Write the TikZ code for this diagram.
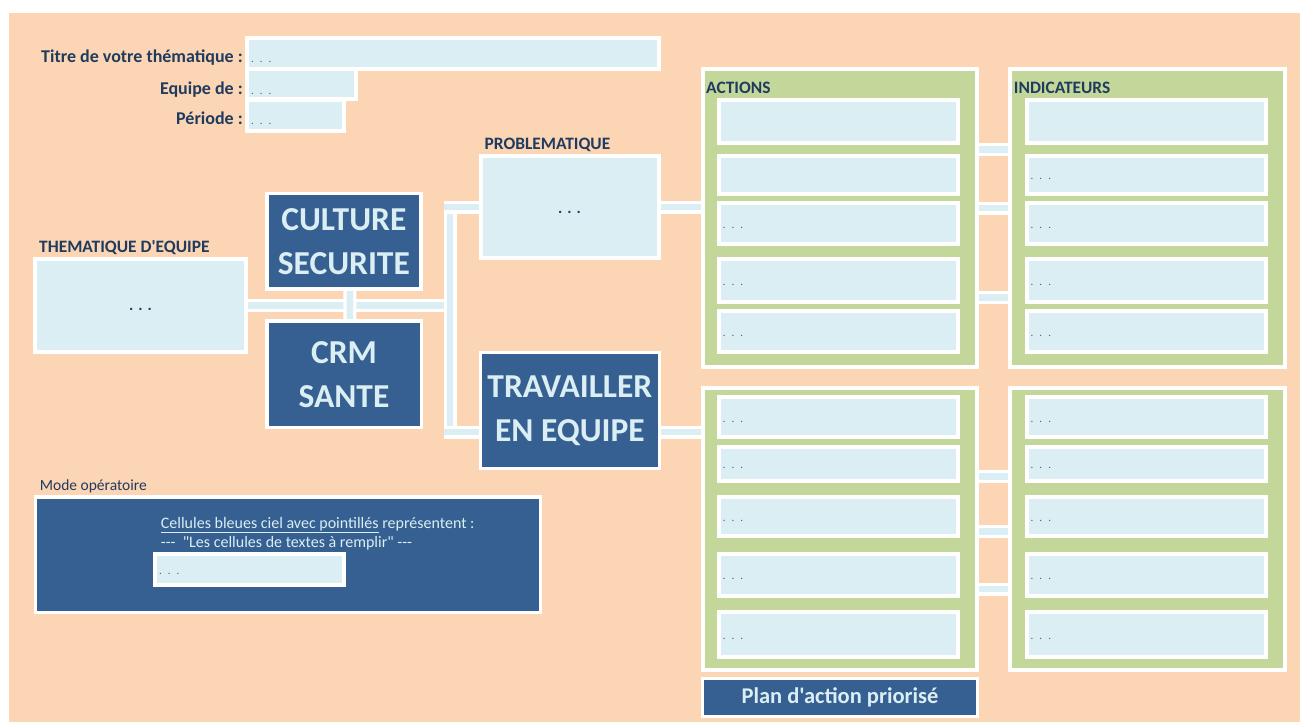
\documentclass[tikz,border=0pt]{standalone}
\usepackage{fontspec}
\setmainfont{Carlito}[Ligatures=TeXOff]
\usetikzlibrary{calc}
\definecolor{peach}{HTML}{FCD5B4}
\definecolor{lblue}{HTML}{DAEEF3}
\definecolor{dblue}{HTML}{366092}
\definecolor{olivec}{HTML}{C4D79B}
\definecolor{labc}{HTML}{1F3B5E}
\definecolor{dotc}{HTML}{4A5F7E}
\pgfdeclarelayer{back}\pgfdeclarelayer{links}\pgfsetlayers{back,links,main}
\tikzset{
 base/.style={rectangle, inner sep=0pt, outer sep=0pt, draw=white},
 cell/.style={base, fill=lblue},
 dark/.style={base, fill=dblue, text=lblue, font=\bfseries\fontsize{33.5}{44}\selectfont, align=center},
 grn/.style={base, fill=olivec},
 lbl/.style={inner sep=0pt, text=labc, font=\bfseries\fontsize{17.4}{20}\selectfont},
 lblm/.style={inner sep=0pt, text=labc, font=\bfseries\fontsize{18}{21}\selectfont},
 modetxt/.style={inner sep=0pt, text=lblue, font=\fontsize{16}{19}\selectfont},
 sdots/.style={inner sep=0pt, text=dotc, font=\fontsize{11}{13}\selectfont},
 bdots/.style={inner sep=0pt, text=labc, font=\bfseries\fontsize{16}{18}\selectfont},
 conn/.style={draw=white, line width=3.25pt, double=lblue, double distance=6.5pt},
}
\newcommand\smdots{.\hspace{6pt}.\hspace{6pt}.}
\newcommand\bgdots{.\hspace{5pt}.\hspace{5pt}.}
\newcommand\DBox[8]{%
 \pgfmathsetmacro\bxcx{(#3+#5)/2}%
 \pgfmathsetmacro\bxcy{(#4+#6)/2}%
 \pgfmathsetmacro\bxw{#5-#3-#7}%
 \pgfmathsetmacro\bxh{#6-#4-#7}%
 \node[#1, line width=#7pt, minimum width=\bxw pt, minimum height=\bxh pt] (#2) at (\bxcx,\bxcy) {#8};}
\begin{document}
\begin{tikzpicture}[x=1pt,y=-1pt]
\useasboundingbox (0,0) rectangle (1300,722);
\begin{pgfonlayer}{back}
\fill[white] (0,0) rectangle (1300,722);
\fill[peach] (9,13) rectangle (1300,722);
\end{pgfonlayer}

% header cells
\DBox{cell}{title}{244.6}{36}{661}{70.7}{4}{}
\DBox{cell}{equipe}{244.6}{67.5}{357.6}{101}{4}{}
\DBox{cell}{periode}{244.6}{98.5}{345.5}{133.3}{4}{}
\node[lblm, anchor=base east] (ltitre) at (243,63) {Titre de votre thématique :};
\node[lblm, anchor=base east] (lequipe) at (243,94.3) {Equipe de :};
\node[lblm, anchor=base east] (lperiode) at (243,125) {Période :};
\node[sdots, anchor=base west] (dtitre) at (251,63) {\smdots};
\node[sdots, anchor=base west] (dequipe) at (251,94.3) {\smdots};
\node[sdots, anchor=base west] (dperiode) at (251,125) {\smdots};

% left part
\node[lbl, anchor=base west] (lthem) at (39,252.7) {THEMATIQUE D'EQUIPE};
\DBox{cell}{them}{33.3}{257.3}{248.3}{354}{4}{}
\node[bdots, anchor=base] (dthem) at (140.5,310.5) {\bgdots};
\DBox{dark}{cult}{265}{192}{422.7}{290.7}{3.5}{CULTURE\\SECURITE}
\DBox{dark}{crm}{265}{319.3}{423}{429.3}{3.5}{CRM\\SANTE}

% middle
\node[lbl, anchor=base west] (lprob) at (484.4,150) {PROBLEMATIQUE};
\DBox{cell}{prob}{478.7}{154}{661}{260}{4}{}
\node[bdots, anchor=base] (dprob) at (569.5,213) {\bgdots};
\DBox{dark}{trav}{478.7}{350.7}{661}{470}{3.5}{TRAVAILLER\\EN EQUIPE}

% right columns
\DBox{grn}{actT}{700.7}{67.3}{979.3}{368.7}{4}{}
\DBox{grn}{indT}{1008}{67.3}{1286.7}{368.7}{4}{}
\DBox{grn}{actB}{700.7}{385.7}{979.3}{671.7}{4}{}
\DBox{grn}{indB}{1008}{385.7}{1286.7}{671.7}{4}{}
\node[lbl, anchor=base west] (lact) at (706,94) {ACTIONS};
\node[lbl, anchor=base west] (lind) at (1013.7,94) {INDICATEURS};

\foreach \i/\a/\b in {1/98.3/145.3,2/153.7/195.7,3/201/245.7,4/256.7/303.7,5/309.3/354}{
  \DBox{cell}{at\i}{716.7}{\a}{960.3}{\b}{4}{}
  \DBox{cell}{it\i}{1024.5}{\a}{1267.7}{\b}{4}{}
}
\foreach \i/\a/\b in {1/395/439,2/445/482.7,3/495/538.3,4/551.7/597.7,5/610/658.7}{
  \DBox{cell}{ab\i}{716.7}{\a}{960.3}{\b}{4}{}
  \DBox{cell}{ib\i}{1024.5}{\a}{1267.7}{\b}{4}{}
}
\foreach \c in {at3,at4,at5,it2,it3,it4,it5,ab1,ab2,ab3,ab4,ab5,ib1,ib2,ib3,ib4,ib5}{
  \node[sdots, anchor=base west] (d\c) at ([xshift=4pt,yshift=-5pt]\c.west) {\smdots};
}
\DBox{dark}{plan}{700.7}{676.7}{979.3}{718.3}{3.5}{\fontsize{22.5}{25}\selectfont Plan d'action priorisé}

% mode operatoire
\node[inner sep=0pt, text=labc, font=\fontsize{15.5}{18}\selectfont, anchor=base west] (lmode) at (39.7,490.7) {Mode opératoire};
\DBox{dark}{mode}{33.8}{495}{542}{614}{3.5}{}
\node[modetxt, anchor=base west] (mt1) at (160.7,528.3) {\underline{Cellules bleues ciel avec pointillés} représentent :};
\node[modetxt, anchor=base west] (mt2) at (160.7,547.3) {-\kern0pt-\kern0pt-\ \ "Les cellules de textes à remplir" -\kern0pt-\kern0pt-};
\DBox{cell}{mcell}{152.8}{552.3}{346.2}{587.3}{4}{}
\node[sdots, anchor=base west] (dmcell) at (159,574.5) {\smdots};

% connectors
\coordinate (busL) at (443.5,0);
\coordinate (bvt) at (450,201.5);
\coordinate (bvb) at (450,438.5);
\coordinate (bustop) at (443.5,207);
\coordinate (busbot) at (443.5,432);
\coordinate (r1) at (0,149.5);
\coordinate (r2) at (0,208);
\coordinate (r3) at (0,297.5);
\coordinate (r4) at (0,476.3);
\coordinate (r5) at (0,531.3);
\coordinate (r6) at (0,589);
\begin{pgfonlayer}{links}
\draw[conn] (them.east) -- (busL |- them.east);
\draw[conn] ([xshift=6pt]cult.south) -- ([xshift=6pt]crm.north);
\draw[conn] (bvt) -- (bvb);
\draw[conn] (bustop) -- (bustop -| prob.west);
\draw[conn] (busbot) -- (busbot -| trav.west);
\draw[conn] (prob.east) -- (prob.east -| actT.west);
\draw[conn] (busbot -| trav.east) -- (busbot -| actB.west);
\foreach \r in {r1,r2,r3}{\draw[conn] (\r -| actT.east) -- (\r -| indT.west);}
\foreach \r in {r4,r5,r6}{\draw[conn] (\r -| actB.east) -- (\r -| indB.west);}
\end{pgfonlayer}
\end{tikzpicture}
\end{document}
